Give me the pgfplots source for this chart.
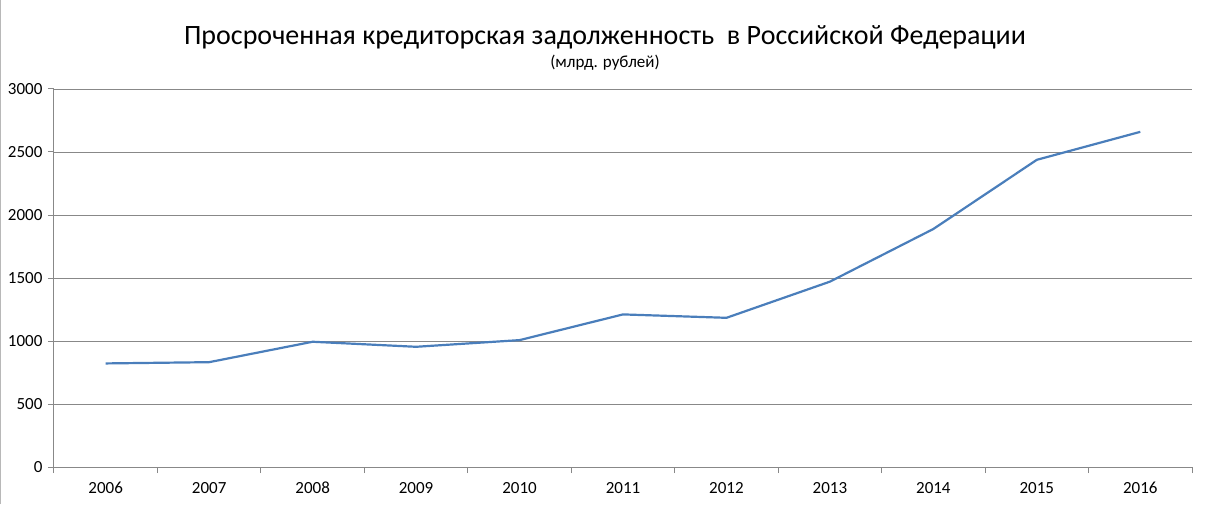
\documentclass[border=0pt]{standalone}
\usepackage{fontspec}
\setmainfont{Carlito}
\usepackage{pgfplots}
\pgfplotsset{compat=1.18}
\definecolor{serie}{HTML}{4A7EBB}
\definecolor{gridc}{HTML}{888888}
\begin{document}
\begin{tikzpicture}[x=1pt,y=1pt]
\useasboundingbox (0,0) rectangle (1205,504);
\draw[gridc!60, line width=1pt] (0.5,0) -- (0.5,504);
\begin{axis}[at={(54pt,37pt)}, anchor=south west, scale only axis,
  width=1138pt, height=378pt,
  xmin=-0.5, xmax=10.5, ymin=0, ymax=3000,
  xtick={-0.5,0.5,...,10.5}, x tick label as interval,
  xticklabels={2006,2007,2008,2009,2010,2011,2012,2013,2014,2015,2016},
  ytick={0,500,...,3000},
  ymajorgrids, grid style={gridc, line width=0.9pt},
  axis x line*=bottom, axis y line*=left,
  x axis line style={-, gridc, line width=1pt},
  y axis line style={-, gridc, line width=1pt},
  tick align=outside, major tick length=6pt,
  tick style={gridc, line width=1pt},
  tick label style={font=\fontsize{17}{20}\selectfont, text=black},
  /pgf/number format/assume math mode=true,
  /pgf/number format/1000 sep={},
  yticklabel style={xshift=-2pt},
  xticklabel style={anchor=north, text height=12pt, text depth=3pt, yshift=-5pt},
  clip=false,
]
\addplot[serie, line width=2.2pt, line join=round] coordinates {
 (0,822) (1,832) (2,994) (3,954) (4,1007) (5,1211) (6,1184) (7,1471) (8,1889) (9,2438) (10,2660)
};
\end{axis}
\node[font=\fontsize{28}{33}\selectfont] at (605,467) {Просроченная кредиторская задолженность\ \ в Российской Федерации};
\node[font=\fontsize{17}{20}\selectfont] at (605,441) {(млрд. рублей)};
\end{tikzpicture}
\end{document}
